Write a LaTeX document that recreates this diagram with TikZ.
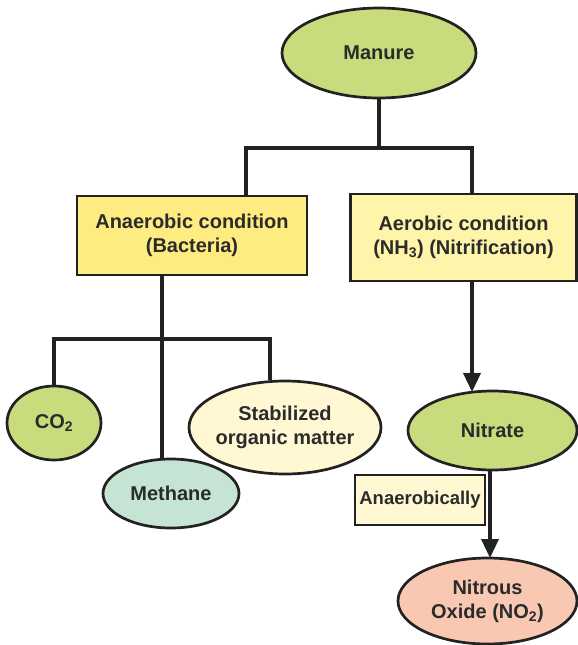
\documentclass[tikz,border=0pt]{standalone}
\usepackage{fontspec}
\setmainfont{Liberation Sans}
\usetikzlibrary{shapes.geometric,arrows.meta}
\definecolor{ink}{HTML}{222222}
\definecolor{txtc}{HTML}{2B2B2B}
\definecolor{greenf}{HTML}{C8DC7E}
\definecolor{tealf}{HTML}{C6E4D4}
\definecolor{creamf}{HTML}{FFF8D2}
\definecolor{salmonf}{HTML}{F8C8B2}
\definecolor{yellowf}{HTML}{FFEC80}
\definecolor{lyellowf}{HTML}{FFF5AA}
\tikzset{
  ell/.style={ellipse, draw=ink, line width=2.7pt, inner sep=0pt},
  boxn/.style={rectangle, draw=ink, line width=2.7pt, inner sep=0pt},
  txt/.style={text=txtc, font=\fontsize{20}{24}\selectfont\bfseries, align=center, inner sep=0pt},
  conn/.style={draw=ink, line width=3.4pt},
  arr/.style={conn, -{Triangle[width=17pt,length=19pt]}}
}
\begin{document}
\begin{tikzpicture}[x=1pt,y=-1pt]
\useasboundingbox (0,0) rectangle (578,645);
% nodes
\node[ell, fill=greenf, minimum width=194pt, minimum height=90pt] (manure) at (379,53) {};
\node[txt] (manuret) at (manure) {Manure};
\node[boxn, fill=yellowf, minimum width=230pt, minimum height=79pt] (anaer) at (192,235.5) {};
\node[txt] (anaert) at (anaer) {Anaerobic condition\\(Bacteria)};
\node[boxn, fill=lyellowf, minimum width=226pt, minimum height=87pt] (aer) at (463.5,237.5) {};
\node[txt] (aert) at (aer) {Aerobic condition\\(NH\textsubscript{3}) (Nitrification)};
\node[ell, fill=greenf, minimum width=94pt, minimum height=74pt] (co2) at (54,423) {};
\node[txt] (co2t) at (co2) {CO\textsubscript{2}};
\node[ell, fill=tealf, minimum width=136pt, minimum height=69pt] (meth) at (171,493.5) {};
\node[txt] (metht) at (meth) {Methane};
\node[ell, fill=creamf, minimum width=192pt, minimum height=93pt] (stab) at (285,427.5) {};
\node[txt] (stabt) at (stab) {Stabilized\\organic matter};
\node[ell, fill=greenf, minimum width=169pt, minimum height=79pt] (nitr) at (492.5,430.5) {};
\node[txt] (nitrt) at (nitr) {Nitrate};
\node[ell, fill=salmonf, minimum width=179pt, minimum height=86pt] (nox) at (487.5,601) {};
\node[txt] (noxt) at (nox) {Nitrous\\Oxide (NO\textsubscript{2})};
\node[boxn, fill=creamf, minimum width=130pt, minimum height=50pt] (anb) at (420,500) {};
\node[txt, font=\fontsize{18.5}{22}\selectfont\bfseries] (anbt) at (anb) {Anaerobically};
% junction coordinates
\coordinate (j1) at (379,148);
\coordinate (ja) at (246,148);
\coordinate (jb) at (472,148);
\coordinate (k0) at (162,339);
\coordinate (kc) at (54,339);
\coordinate (ks) at (270,339);
\coordinate (nin) at (472,392);
\coordinate (noxin) at (490,558);
% connectors
\draw[conn] (manure.south) -- (j1);
\draw[conn] (ja |- anaer.north) -- (ja) -- (jb) -- (jb |- aer.north);
\draw[conn] (k0 |- anaer.south) -- (k0);
\draw[conn] (co2.north) -- (kc) -- (ks) -- (ks |- stab.north);
\draw[conn] (k0) -- (k0 |- meth.north);
\draw[arr] (jb |- aer.south) -- (nin);
\draw[arr] (noxin |- nitr.south) -- (noxin);
\end{tikzpicture}
\end{document}
